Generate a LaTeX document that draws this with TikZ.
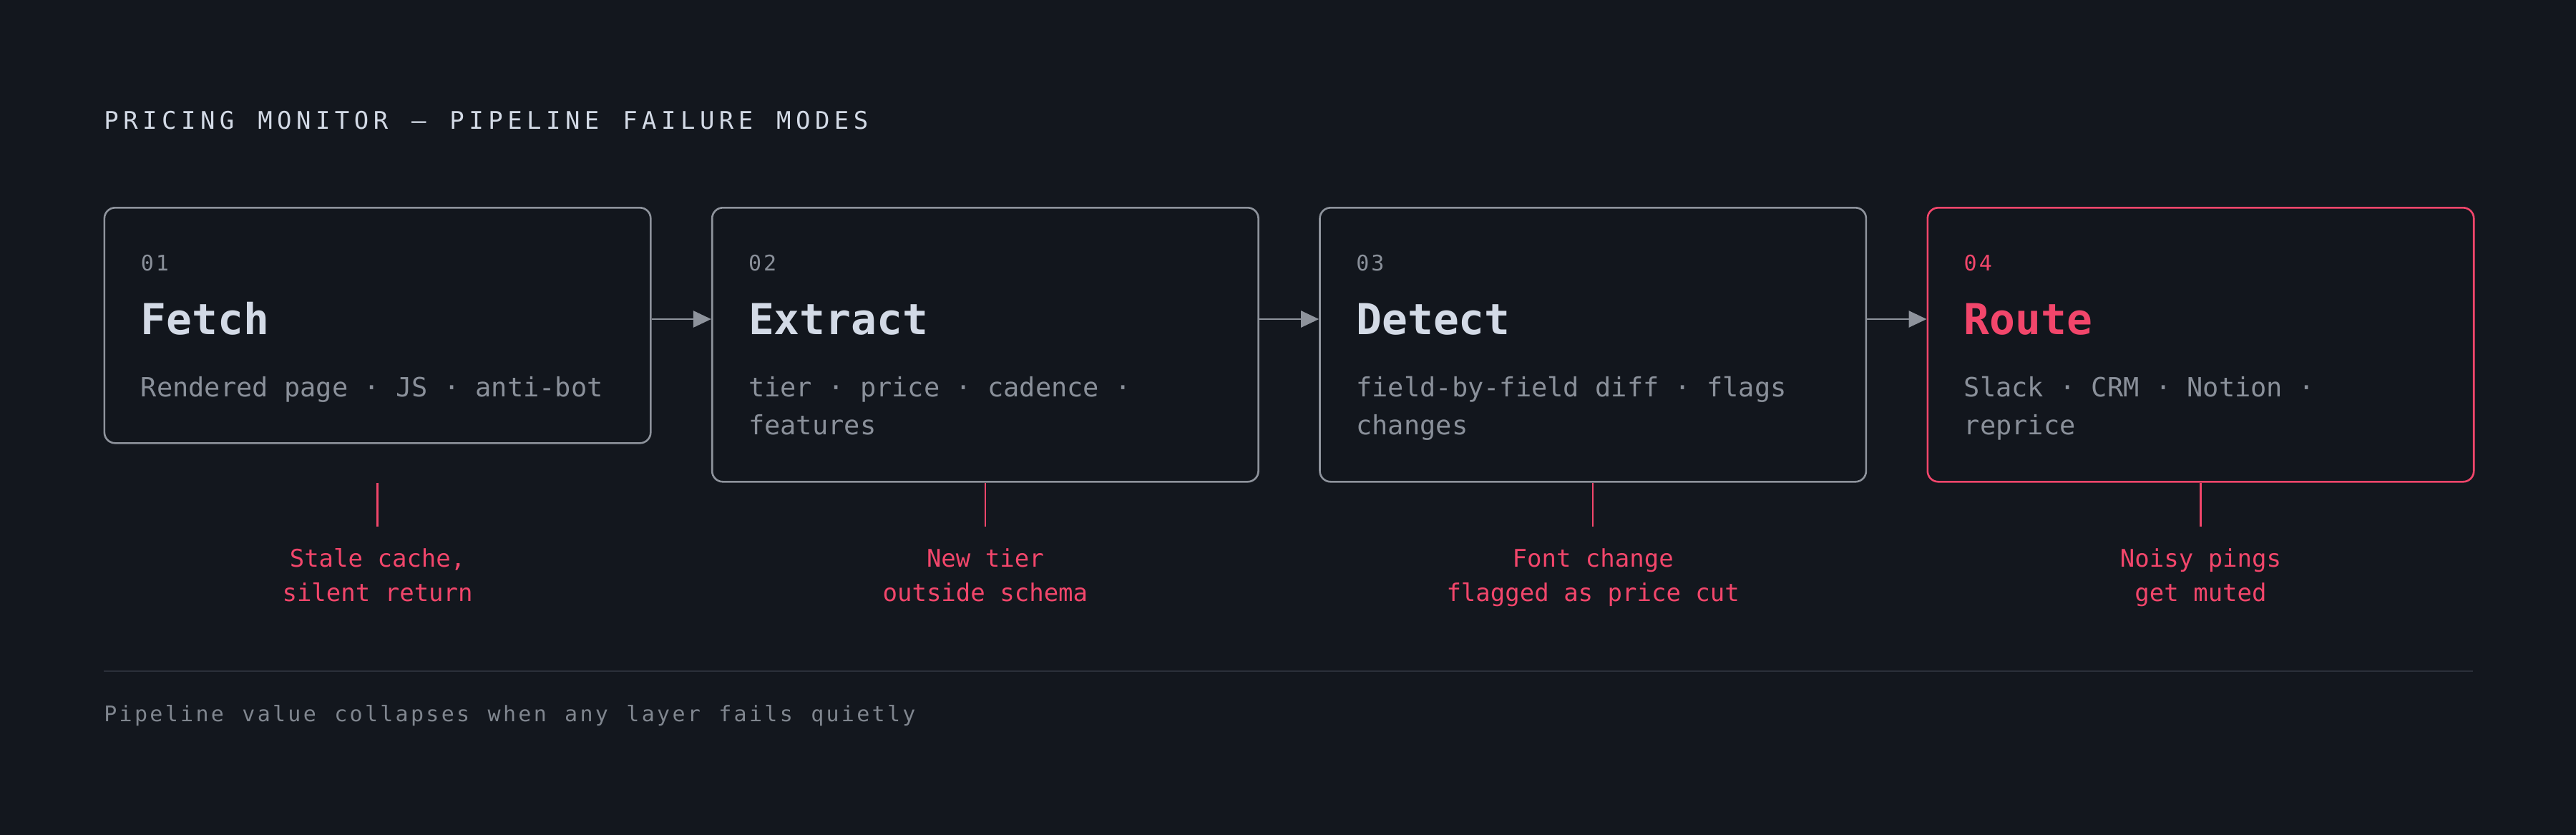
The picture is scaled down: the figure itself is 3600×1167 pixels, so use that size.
\documentclass[tikz,border=0pt]{standalone}
\usepackage{fontspec}
\setmonofont{DejaVu Sans Mono}
\newfontfamily\ttlfont[LetterSpace=19,WordSpace=1.22]{DejaVu Sans Mono}
\newfontfamily\numfont[LetterSpace=10]{DejaVu Sans Mono}
\newfontfamily\footfont[LetterSpace=11,WordSpace=1.19]{DejaVu Sans Mono}
\newfontfamily\monofont{DejaVu Sans Mono}
\usetikzlibrary{arrows.meta,calc}
\definecolor{bg}{HTML}{13171E}
\definecolor{boxfill}{HTML}{12161D}
\definecolor{edge}{HTML}{8E939C}
\definecolor{head}{HTML}{D3DAE6}
\definecolor{muted}{HTML}{8A909A}
\definecolor{accent}{HTML}{F2466B}
\definecolor{rulec}{HTML}{2B303A}
\definecolor{footc}{HTML}{80868F}
\newcommand{\fixedspaces}{\spaceskip=\fontdimen2\font\relax\xspaceskip=\fontdimen2\font\relax}
\begin{document}
\begin{tikzpicture}[x=0.25pt,y=-0.25pt,
  stagebox/.style={draw=edge,line width=0.65pt,fill=boxfill,rounded corners=3.75pt,
    minimum width=190.85pt,minimum height=95.75pt,inner sep=0pt,anchor=north west},
  shortbox/.style={stagebox,minimum height=82.25pt},
  hotbox/.style={stagebox,draw=accent},
  numlbl/.style={inner sep=0pt,anchor=base west,text=muted,font=\numfont\fontsize{7.5pt}{9pt}\selectfont},
  namelbl/.style={inner sep=0pt,anchor=base west,text=head,font=\monofont\bfseries\fontsize{14.9pt}{18pt}\selectfont},
  desclbl/.style={inner sep=0pt,anchor=base west,text=muted,text width=170pt,align=left,
    font=\monofont\fontsize{9.25pt}{13.25pt}\selectfont,
    execute at begin node={\fixedspaces}},
  faillbl/.style={inner sep=0pt,anchor=base,text=accent,text width=110pt,align=center,
    font=\monofont\fontsize{8.5pt}{12pt}\selectfont,
    execute at begin node={\fixedspaces}},
  flow/.style={draw=edge,line width=0.67pt,-{Triangle[length=6.25pt,width=5.75pt]},fill=edge},
  tick/.style={draw=accent,line width=0.6pt},
  sep/.style={draw=rulec,line width=0.65pt}
]
\fill[bg] (0,0) rectangle (3600,1167);
\useasboundingbox (0,0) rectangle (3600,1167);

\node[inner sep=0pt,anchor=base west,text=head,font=\ttlfont\fontsize{8.5pt}{10pt}\selectfont] (title) at (144.6,180) {PRICING MONITOR — PIPELINE FAILURE MODES};

% boxes
\node[shortbox] (b1) at (144.6,289) {};
\node[stagebox] (b2) at (993.9,289) {};
\node[stagebox] (b3) at (1843.2,289) {};
\node[hotbox]   (b4) at (2692.5,289) {};

% box texts
\node[numlbl] (n1) at ($(b1.north west)+(51.4,89)$) {01};
\node[namelbl] (h1) at ($(b1.north west)+(51.4,178)$) {Fetch};
\node[desclbl] (d1) at ($(b1.north west)+(51.4,265)$) {Rendered page · JS · anti-bot};

\node[numlbl] (n2) at ($(b2.north west)+(51.4,89)$) {02};
\node[namelbl] (h2) at ($(b2.north west)+(51.4,178)$) {Extract};
\node[desclbl] (d2) at ($(b2.north west)+(51.4,265)$) {tier · price · cadence ·\\features};

\node[numlbl] (n3) at ($(b3.north west)+(51.4,89)$) {03};
\node[namelbl] (h3) at ($(b3.north west)+(51.4,178)$) {Detect};
\node[desclbl] (d3) at ($(b3.north west)+(51.4,265)$) {field-by-field diff · flags\\changes};

\node[numlbl,text=accent] (n4) at ($(b4.north west)+(51.4,89)$) {04};
\node[namelbl,text=accent] (h4) at ($(b4.north west)+(51.4,178)$) {Route};
\node[desclbl] (d4) at ($(b4.north west)+(51.4,265)$) {Slack · CRM · Notion ·\\reprice};

% flow arrows
\draw[flow] ($(b1.north east)+(0,157)$) -- ($(b2.north west)+(0,157)$);
\draw[flow] ($(b2.north east)+(0,157)$) -- ($(b3.north west)+(0,157)$);
\draw[flow] ($(b3.north east)+(0,157)$) -- ($(b4.north west)+(0,157)$);

% failure ticks and labels
\coordinate (t1) at (b1.north |- b2.south);
\coordinate (t2) at (b2.south);
\coordinate (t3) at (b3.south);
\coordinate (t4) at (b4.south);
\draw[tick] (t1) -- ++(0,61);
\draw[tick] (t2) -- ++(0,61);
\draw[tick] (t3) -- ++(0,61);
\draw[tick] (t4) -- ++(0,61);

\node[faillbl] (f1) at ($(b1.north)+(0,503)$) {Stale cache,\\silent return};
\node[faillbl] (f2) at ($(b2.north)+(0,503)$) {New tier\\outside schema};
\node[faillbl] (f3) at ($(b3.north)+(0,503)$) {Font change\\flagged as price cut};
\node[faillbl] (f4) at ($(b4.north)+(0,503)$) {Noisy pings\\get muted};

% bottom rule and footer
\coordinate (r1) at (144.6,938);
\coordinate (r2) at (3455.9,938);
\draw[sep] (r1) -- (r2);
\node[inner sep=0pt,anchor=base west,text=footc,font=\footfont\fontsize{7.5pt}{9pt}\selectfont] (foot) at (144.6,1008) {Pipeline value collapses when any layer fails quietly};
\end{tikzpicture}
\end{document}
